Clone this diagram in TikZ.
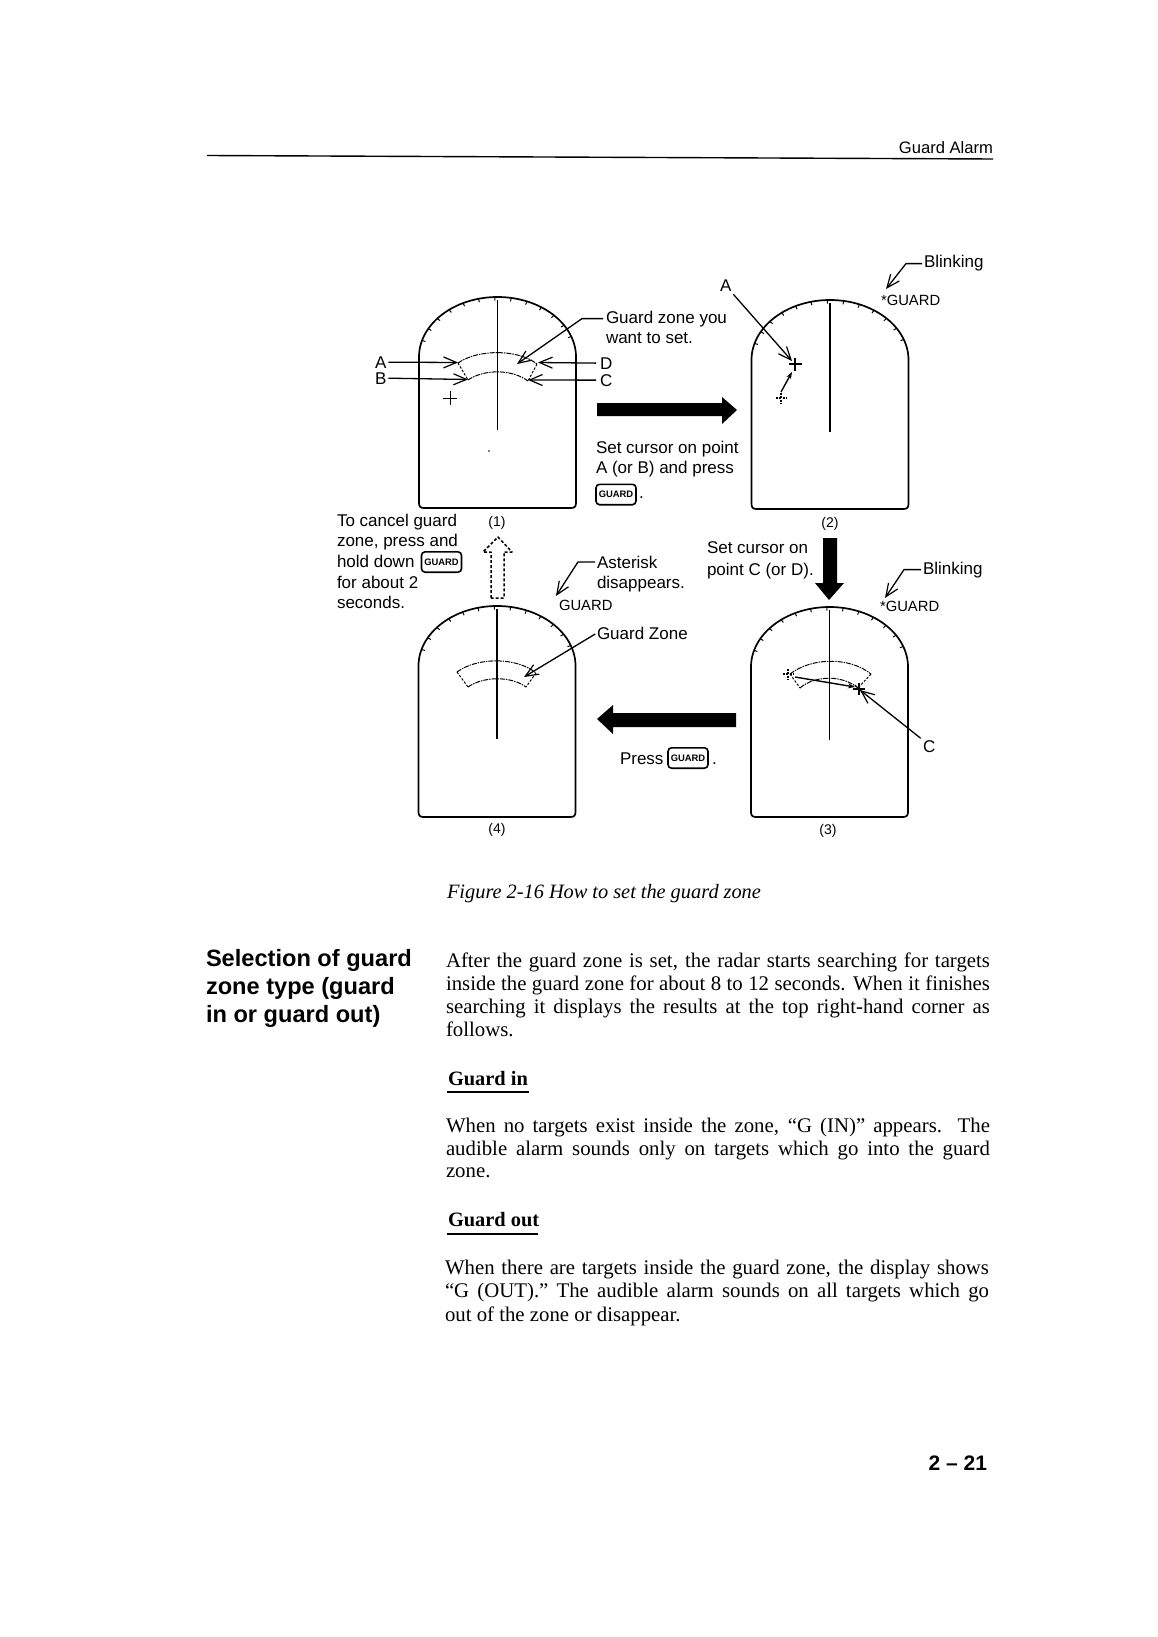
\documentclass[tikz,border=0pt]{standalone}
\usepackage{fontspec}
\setmainfont{Liberation Serif}
\setsansfont{Liberation Sans}
\usetikzlibrary{arrows.meta}
\tikzset{
  x=0.5pt,y=-0.5pt,
  frameline/.style={line width=0.85pt,line join=round},
  tickline/.style={line width=0.5pt},
  sweepline/.style={line width=0.75pt},
  zoneline/.style={line width=0.5pt,dash pattern=on 2.5pt off 0.5pt on 0.7pt off 0.5pt},
  zoneside/.style={line width=0.5pt,dash pattern=on 1.2pt off 0.8pt},
  leader/.style={line width=0.65pt,-{Straight Barb[length=6.5pt,width=5.5pt,line width=0.6pt]}},
  tinyarrow/.style={line width=0.7pt,-{Stealth[length=3.5pt,width=2.5pt]}},
  crossline/.style={line width=0.5pt},
  crossthick/.style={line width=0.85pt},
  crossdash/.style={line width=0.55pt,dash pattern=on 1pt off 0.8pt},
  bigarrow/.style={fill=black,draw=none},
  ghostarrow/.style={line width=0.75pt,dash pattern=on 1.5pt off 1pt,line join=round},
  lbl/.style={inner sep=0pt,outer sep=0pt,anchor=base west,font=\fontsize{8.5}{10}\selectfont\sffamily},
  screen/.style={lbl,font=\fontsize{7.4}{9}\selectfont\sffamily},
  panelno/.style={lbl,anchor=base,font=\fontsize{7}{9}\selectfont\sffamily},
  body/.style={inner sep=0pt,outer sep=0pt,anchor=base west,font=\fontsize{10.4}{11.5}\selectfont\rmfamily},
  subhead/.style={body,font=\fontsize{10.2}{11.5}\selectfont\rmfamily\bfseries},
  capt/.style={body,font=\fontsize{10.2}{11.5}\selectfont\rmfamily\itshape},
  sidehead/.style={inner sep=0pt,outer sep=0pt,anchor=base west,font=\fontsize{11.8}{14}\selectfont\sffamily\bfseries},
  pagehead/.style={inner sep=0pt,outer sep=0pt,anchor=base east,font=\fontsize{8.3}{10}\selectfont\sffamily},
  pagenum/.style={inner sep=0pt,outer sep=0pt,anchor=base east,font=\fontsize{10.5}{13}\selectfont\sffamily\bfseries},
  keycap/.style={draw,line width=0.8pt,rounded corners=1.8pt,inner sep=0pt,minimum width=20pt,minimum height=10.2pt,
    font=\fontsize{4.7}{5}\selectfont\sffamily\bfseries},
  rulerline/.style={line width=0.7pt},
}
% one radar screen: centre x, top y, bottom y, sweep end y
\newcommand{\radarscreen}[4]{%
  \draw[frameline] ({#1-78.5},{#2+60})
     .. controls ({#1-78.5},{#2+27}) and ({#1-43.4},{#2}) .. ({#1},{#2})
     .. controls ({#1+43.4},{#2}) and ({#1+78.5},{#2+27}) .. ({#1+78.5},{#2+60})
     -- ({#1+78.5},{#3-5}) .. controls ({#1+78.5},{#3-1.5}) and ({#1+77},{#3}) .. ({#1+73.5},{#3})
     -- ({#1-73.5},{#3}) .. controls ({#1-77},{#3}) and ({#1-78.5},{#3-1.5}) .. ({#1-78.5},{#3-5}) -- cycle;
  \foreach \a in {20,32,...,164}{
    \draw[tickline] ({#1+78.5*cos(\a)},{#2+60-60*sin(\a)}) -- ({#1+75*cos(\a)},{#2+60-56.5*sin(\a)});
  }
  \draw[sweepline] (#1,#2+3) -- (#1,#4);
}
\newcommand{\crosshair}[4]{%
  \draw[#4] ({#1-#3},#2) -- ({#1+#3},#2);
  \draw[#4] (#1,{#2-#3}) -- (#1,{#2+#3});
}
\newcommand{\jline}[5]{\node[body] (#1) at (#2,#3) {\makebox[#4][s]{#5}};}
\begin{document}
\begin{tikzpicture}
\useasboundingbox (0,0) rectangle (1157,1637);
\fill[white] (0,0) rectangle (1157,1637);

% page header
\node[pagehead] (hdr) at (993,153.5) {Guard Alarm};
\coordinate (ruleL) at (207,155.5);
\coordinate (ruleR) at (993,159);
\draw[rulerline] (ruleL) -- (ruleR);

% ---------------- panel 1
\radarscreen{497.5}{297}{508}{430}
\draw[zoneline] (458,363) .. controls (478,349) and (518,349) .. (537,364);
\draw[zoneline] (468,380) .. controls (484,369) and (512,369) .. (528,381);
\draw[zoneside] (458,363) -- (468,380);
\draw[zoneside] (537,364) -- (528,381);
\crosshair{450}{398}{7}{crossline}
\fill (489,451) circle (0.4pt);
\node[lbl] (lA) at (375,368) {A};
\node[lbl] (lB) at (375,384) {B};
\node[lbl] (lD) at (600,369) {D};
\node[lbl] (lC) at (600,386) {C};
\coordinate (pA) at (458,362.5);
\coordinate (pB) at (468,379.5);
\coordinate (pD) at (538,362.5);
\coordinate (pC) at (528,380);
\draw[leader,shorten <=1pt] (lA.east) -- (pA);
\draw[leader,shorten <=1pt] (lB.east) -- (pB);
\draw[leader,shorten <=2pt] (lD.west) -- (pD);
\draw[leader,shorten <=2pt] (lC.west) -- (pC);
\node[lbl] (gz1) at (606,323) {Guard zone you};
\node[lbl] (gz2) at (606,343) {want to set.};
\coordinate (gzt) at (517,364);
\draw[leader,shorten <=1.5pt] (gz1.west) -- ++(-24,0) -- (gzt);
\node[panelno] (n1) at (497,526) {(1)};

% big arrow right
\node[lbl] (s1) at (596,453) {Set cursor on point};
\node[lbl] (s2) at (596,473) {A (or B) and press};
\node[keycap] (k1) at (616,494.5) {GUARD};
\node[lbl] (k1d) at (639,498) {.};
\fill[bigarrow] (597,403) -- (722,403) -- (722,397) -- (737,410) -- (722,424) -- (722,416) -- (597,416) -- cycle;

% ---------------- panel 2
\radarscreen{830}{300}{509}{432}
\node[lbl] (lA2) at (720,292) {A};
\coordinate (pA2) at (792,361);
\draw[leader,shorten <=1.5pt] (lA2.south east) -- (pA2);
\crosshair{795}{364}{6.5}{crossthick}
\crosshair{781}{398}{5.5}{crossdash}
\coordinate (m2a) at (781,392);
\coordinate (m2b) at (792,372);
\draw[tinyarrow] (m2a) -- (m2b);
\node[lbl] (bl2) at (924,268) {Blinking};
\node[screen] (sg2) at (881,305) {*GUARD};
\coordinate (bt2) at (886,289);
\draw[leader,shorten <=1pt] (bl2.west) -- ++(-18,0) -- (bt2);
\node[panelno] (n2) at (830,527) {(2)};

% left note
\node[lbl] (c1) at (337,526) {To cancel guard};
\node[lbl] (c2) at (337,546) {zone, press and};
\node[lbl] (c3) at (337,567) {hold down};
\node[keycap] (k2) at (441.5,562) {GUARD};
\node[lbl] (c4) at (337,588) {for about 2};
\node[lbl] (c5) at (337,608) {seconds.};

% ghost arrow up
\draw[ghostarrow] (491,598) -- (491,552) -- (483,552) -- (498,537) -- (512,552) -- (504,552) -- (504,598) -- cycle;

% asterisk note
\node[lbl] (as1) at (597,568) {Asterisk};
\node[lbl] (as2) at (597,588) {disappears.};
\node[screen] (sg4) at (559,610) {GUARD};
\coordinate (at4) at (556,596);
\draw[leader,shorten <=1pt] (as1.west) -- ++(-19,0) -- (at4);

% set cursor note and big arrow down
\node[lbl] (sc1) at (707,553) {Set cursor on};
\node[lbl] (sc2) at (707,575) {point C (or D).};
\fill[bigarrow] (823,538) -- (837,538) -- (837,583) -- (844,583) -- (829,600) -- (815,583) -- (823,583) -- cycle;

% ---------------- panel 4
\radarscreen{497}{606}{817}{739}
\draw[zoneline] (457,672) .. controls (477,657) and (517,657) .. (536,673);
\draw[zoneline] (468,687) .. controls (484,676) and (511,676) .. (526,687);
\draw[zoneside] (457,672) -- (468,687);
\draw[zoneside] (536,673) -- (526,687);
\node[lbl] (gzz) at (597,639) {Guard Zone};
\coordinate (gzzt) at (524,677);
\draw[leader,shorten <=1pt] (gzz.west) -- (gzzt);
\node[panelno] (n4) at (497,833) {(4)};

% big arrow left
\fill[bigarrow] (736,713) -- (613,713) -- (613,705) -- (597,719) -- (613,734) -- (613,727) -- (736,727) -- cycle;
\node[lbl] (pr) at (620,764) {Press};
\node[keycap] (k3) at (688,758) {GUARD};
\node[lbl] (k3d) at (712,764) {.};

% ---------------- panel 3
\radarscreen{829.5}{607}{817}{740}
\draw[zoneline] (790,674) .. controls (812,657) and (850,657) .. (871,674);
\draw[zoneline] (800,688) .. controls (815,675) and (843,675) .. (858,688);
\draw[zoneside] (790,674) -- (800,688);
\draw[zoneside] (871,674) -- (858,688);
\crosshair{788}{674}{5.5}{crossdash}
\coordinate (m3a) at (795,677);
\coordinate (m3b) at (855,687);
\draw[tinyarrow] (m3a) -- (m3b);
\crosshair{859}{689}{6}{crossthick}
\draw[crossline] (855,685) -- (863,693);
\node[lbl] (lC3) at (923,752) {C};
\coordinate (pC3) at (860,690);
\draw[leader,shorten <=1.5pt] (lC3.north west) -- (pC3);
\node[lbl] (bl3) at (923,574) {Blinking};
\node[screen] (sg3) at (880,611) {*GUARD};
\coordinate (bt3) at (885,598);
\draw[leader,shorten <=1pt] (bl3.west) -- ++(-19,0) -- (bt3);
\node[panelno] (n3) at (828,834) {(3)};

% caption
\node[capt] (cap) at (447,898) {\makebox[157pt][s]{Figure 2-16 How to set the guard zone}};

% side heading
\node[sidehead] (h1) at (206,966) {Selection of guard};
\node[sidehead] (h2) at (206,994) {zone type (guard};
\node[sidehead] (h3) at (206,1022) {in or guard out)};

% body
\jline{p11}{446}{967}{272pt}{After the guard zone is set, the radar starts searching for targets}
\jline{p12}{446}{990}{272pt}{inside the guard zone for about 8 to 12 seconds. When it finishes}
\jline{p13}{446}{1013}{272pt}{searching it displays the results at the top right-hand corner as}
\node[body] (p14) at (446,1036) {follows.};

\node[subhead] (g1) at (448,1085) {Guard in};
\coordinate (u1l) at (447,1092);
\coordinate (u1r) at (529,1092);
\draw[rulerline] (u1l) -- (u1r);

\jline{p21}{446}{1132}{272pt}{When no targets exist inside the zone, “G (IN)” appears. The}
\jline{p22}{446}{1155}{272pt}{audible alarm sounds only on targets which go into the guard}
\node[body] (p23) at (446,1177) {zone.};

\node[subhead] (g2) at (448,1226) {Guard out};
\coordinate (u2l) at (447,1234);
\coordinate (u2r) at (538,1234);
\draw[rulerline] (u2l) -- (u2r);

\jline{p31}{445}{1274}{272pt}{When there are targets inside the guard zone, the display shows}
\jline{p32}{445}{1297}{272pt}{“G (OUT).” The audible alarm sounds on all targets which go}
\node[body] (p33) at (445,1321) {out of the zone or disappear.};

\node[pagenum] (pg) at (987,1470) {2 – 21};
\end{tikzpicture}
\end{document}
